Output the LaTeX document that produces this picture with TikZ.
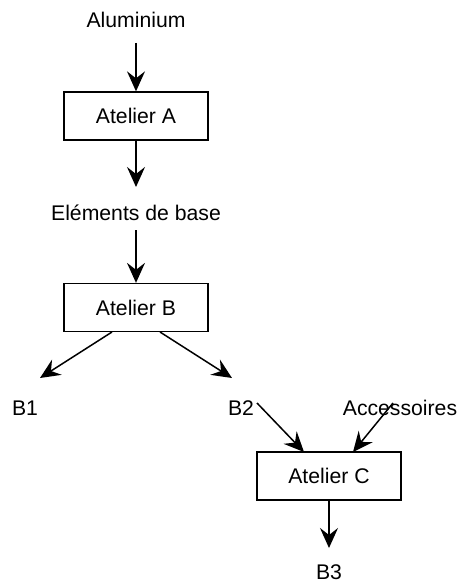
\documentclass[tikz,border=0pt]{standalone}
\usepackage{fontspec}
\setmainfont{Liberation Sans}
\usetikzlibrary{arrows.meta}
\begin{document}
\begin{tikzpicture}[x=1pt,y=-1pt,
  lbl/.style={inner sep=0pt,font=\fontsize{21.2}{25}\selectfont},
  box/.style={draw,line width=1.3pt,minimum width=144pt,minimum height=48pt,inner sep=0pt,font=\fontsize{21.2}{25}\selectfont},
  arr/.style={line width=1.5pt,-{Stealth[length=20pt,width=18pt,inset=7pt]}}]
\useasboundingbox (0,0) rectangle (460,583);
\node[lbl] (alu) at (136,20) {Aluminium};
\node[box] (A) at (136,116) {Atelier A};
\node[lbl] (elem) at (136,213) {Eléments de base};
\node[box] (B) at (136,307.5) {Atelier B};
\node[lbl] (b1) at (25,408) {B1};
\node[lbl] (b2) at (241,408) {B2};
\node[lbl] (acc) at (400,408) {Accessoires};
\node[box] (C) at (329,476) {Atelier C};
\node[lbl] (b3) at (329,572) {B3};
\coordinate (aluS) at (136,43);
\coordinate (aEnd) at (136,187);
\coordinate (elS) at (136,230);
\coordinate (bL) at (112,332);
\coordinate (bR) at (160,332);
\coordinate (b1E) at (40,378);
\coordinate (b2E) at (232,378);
\coordinate (b2S) at (257,403);
\coordinate (cL) at (304,452);
\coordinate (accS) at (393,403);
\coordinate (cR) at (353,452);
\coordinate (b3E) at (329,548);
\draw[arr] (aluS) -- (A.north);
\draw[arr] (A.south) -- (aEnd);
\draw[arr] (elS) -- (B.north);
\draw[arr] (bL) -- (b1E);
\draw[arr] (bR) -- (b2E);
\draw[arr] (b2S) -- (cL);
\draw[arr] (accS) -- (cR);
\draw[arr] (C.south) -- (b3E);
\end{tikzpicture}
\end{document}
